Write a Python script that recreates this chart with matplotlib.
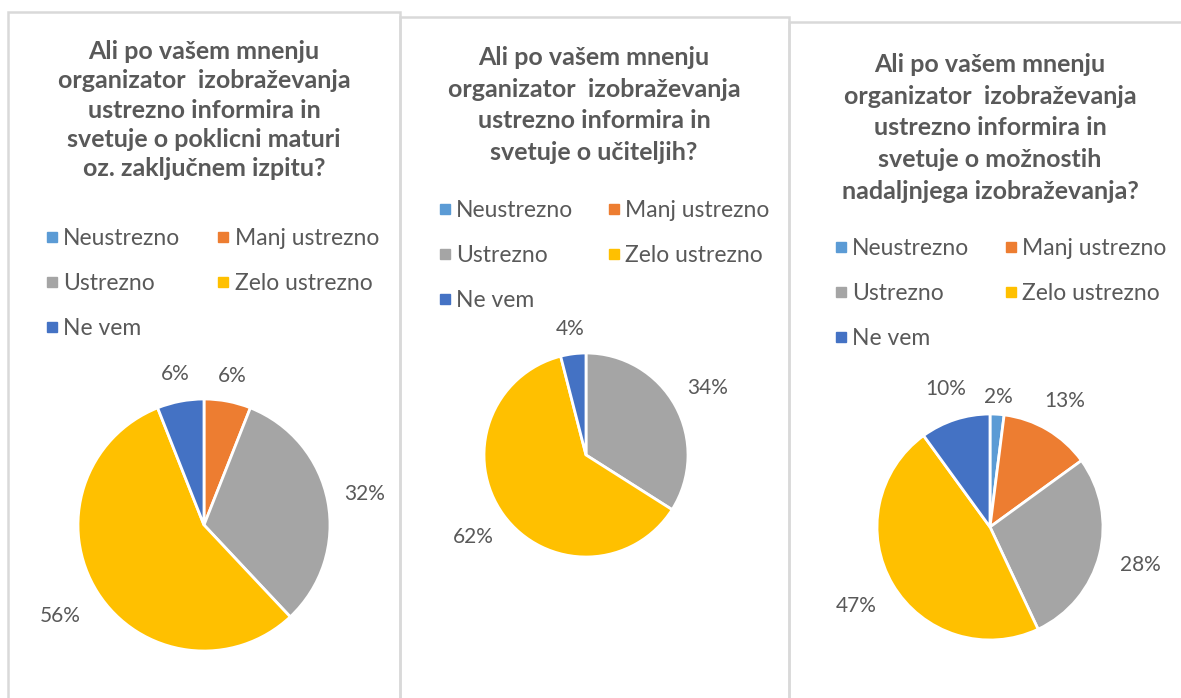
import numpy as np
import matplotlib.pyplot as plt
from matplotlib.patches import Rectangle
from matplotlib.lines import Line2D

W, H = 1181, 698

categories = ['Neustrezno', 'Manj ustrezno', 'Ustrezno', 'Zelo ustrezno', 'Ne vem']
colors = ['#5B9BD5', '#ED7D31', '#A5A5A5', '#FFC000', '#4472C4']

titles = [
    'Ali po vašem mnenju\norganizator  izobraževanja\nustrezno informira in\nsvetuje o poklicni maturi\noz. zaključnem izpitu?',
    'Ali po vašem mnenju\norganizator  izobraževanja\nustrezno informira in\nsvetuje o učiteljih?',
    'Ali po vašem mnenju\norganizator  izobraževanja\nustrezno informira in\nsvetuje o možnostih\nnadaljnjega izobraževanja?',
]

vals_matura = [0, 6, 32, 56, 6]
vals_ucitelji = [0, 0, 34, 62, 4]
vals_nadaljnje = [2, 13, 28, 47, 10]
values = [vals_matura, vals_ucitelji, vals_nadaljnje]

# label distance (in radii) per wedge
label_dist = [
    [1.2, 1.2, 1.3, 1.35, 1.22],
    [1.2, 1.2, 1.36, 1.37, 1.25],
    [1.15, 1.3, 1.37, 1.38, 1.28],
]

# layout in pixels
panels = [(8, 12, 392), (400, 17, 389), (789, 22, 400)]   # left, top, width
pies = [(204, 525, 126), (586, 455, 102), (990, 527, 113)]  # cx, cy, r
title_x = [204, 594, 990]
title_top = [40, 46, 53]
title_spacing = [1.33, 1.45, 1.46]
legend_top = [228, 200, 238]
legend_left = [45, 438, 834]
col_space = [1.56, 1.45, 1.5]

TXT = '#595959'
plt.rcParams['font.family'] = ['Lato', 'DejaVu Sans']

fig = plt.figure(figsize=(W / 100, H / 100), dpi=100)
fig.patch.set_facecolor('white')

for i in range(3):
    px, py, pw = panels[i]
    fig.patches.append(Rectangle((px / W, 0 - 0.01), pw / W, (H - py) / H + 0.01,
                                 transform=fig.transFigure, fill=False,
                                 edgecolor='#D9D9D9', linewidth=1.8))

    cx, cy, r = pies[i]
    fig.text(title_x[i] / W, 1 - title_top[i] / H, titles[i],
             ha='center', va='top', fontsize=18, fontweight='bold', color=TXT,
             linespacing=title_spacing[i])

    ax = fig.add_axes([(cx - r) / W, (H - cy - r) / H, 2 * r / W, 2 * r / H])
    wedges, _ = ax.pie(values[i], colors=colors, startangle=90, counterclock=False,
                       radius=1, wedgeprops=dict(edgecolor='white', linewidth=2))
    ax.set_xlim(-1, 1)
    ax.set_ylim(-1, 1)
    ax.axis('off')

    for w, v, d in zip(wedges, values[i], label_dist[i]):
        if v == 0:
            continue
        ang = np.deg2rad((w.theta1 + w.theta2) / 2)
        ax.text(d * np.cos(ang), d * np.sin(ang), f'{v}%', ha='center', va='center',
                fontsize=15, color=TXT)

    order = [0, 2, 4, 1, 3]
    handles = [Line2D([], [], marker='s', linestyle='', markersize=6.5,
                      color=colors[k]) for k in order]
    labels = [categories[k] for k in order]
    fig.legend(handles, labels, ncol=2, loc='upper left',
               bbox_to_anchor=(legend_left[i] / W, 1 - legend_top[i] / H),
               frameon=False, fontsize=16.5, labelcolor=TXT,
               handlelength=0.6, handletextpad=0.2, columnspacing=col_space[i],
               labelspacing=1.05, borderpad=0, borderaxespad=0)

fig.savefig('out.png', dpi=100, facecolor='white')
